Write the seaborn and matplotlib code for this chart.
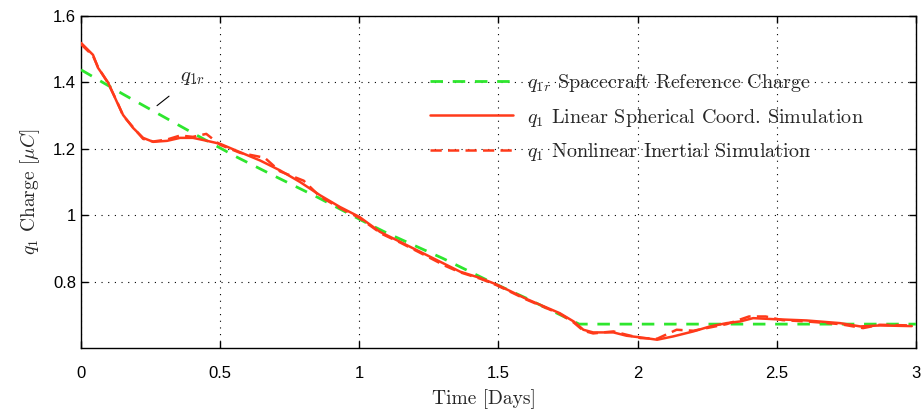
"""Spacecraft charge tracking: reference vs linear and nonlinear simulations."""

import matplotlib

matplotlib.use("Agg")

import matplotlib.pyplot as plt
import numpy as np
import pandas as pd
import seaborn as sns
from matplotlib.ticker import FuncFormatter

# reference charge q1r
ref_t = [0.0, 0.15, 0.30, 0.42, 0.56, 0.70, 0.85, 1.03, 1.10, 1.30, 1.47, 1.60, 1.79, 3.0]
ref_q = [1.438, 1.365, 1.295, 1.239, 1.175, 1.116, 1.054, 0.975, 0.946, 0.870, 0.800, 0.750, 0.672, 0.672]

# linear spherical coordinate simulation
lin_t = [0.0, 0.043, 0.061, 0.097, 0.129, 0.151, 0.187, 0.223, 0.259, 0.309, 0.356,
         0.402, 0.453, 0.50, 0.571, 0.643, 0.715, 0.787, 0.859, 0.93, 1.0, 1.074,
         1.146, 1.218, 1.29, 1.362, 1.434, 1.494, 1.60, 1.72, 1.77, 1.805, 1.84,
         1.913, 1.96, 2.01, 2.07, 2.128, 2.20, 2.26, 2.32, 2.368, 2.415, 2.487,
         2.607, 2.727, 2.80, 2.87, 2.985]
lin_q = [1.519, 1.483, 1.444, 1.400, 1.341, 1.302, 1.263, 1.233, 1.221, 1.224, 1.233,
         1.233, 1.224, 1.215, 1.190, 1.165, 1.135, 1.100, 1.060, 1.025, 0.995, 0.950,
         0.920, 0.890, 0.860, 0.830, 0.811, 0.791, 0.748, 0.705, 0.680, 0.655, 0.647,
         0.647, 0.637, 0.632, 0.625, 0.635, 0.650, 0.665, 0.675, 0.680, 0.690, 0.687,
         0.683, 0.675, 0.665, 0.668, 0.666]

# nonlinear inertial simulation
nl_t = [0.0, 0.043, 0.061, 0.097, 0.129, 0.151, 0.187, 0.223, 0.259, 0.309, 0.356,
        0.402, 0.45, 0.50, 0.571, 0.66, 0.715, 0.80, 0.859, 0.93, 1.0, 1.08,
        1.146, 1.218, 1.31, 1.362, 1.434, 1.494, 1.60, 1.72, 1.77, 1.805, 1.84,
        1.913, 1.96, 2.01, 2.07, 2.14, 2.20, 2.26, 2.32, 2.40, 2.46, 2.52,
        2.607, 2.727, 2.81, 2.87, 2.985]
nl_q = [1.515, 1.480, 1.446, 1.398, 1.343, 1.300, 1.265, 1.230, 1.222, 1.228, 1.240,
        1.236, 1.245, 1.212, 1.188, 1.173, 1.132, 1.104, 1.056, 1.022, 0.992, 0.944,
        0.918, 0.887, 0.847, 0.828, 0.809, 0.789, 0.746, 0.703, 0.677, 0.652, 0.644,
        0.650, 0.640, 0.630, 0.628, 0.655, 0.652, 0.662, 0.672, 0.695, 0.695, 0.684,
        0.680, 0.672, 0.660, 0.670, 0.668]

GREEN = "#2ee62e"
RED = "#ff3a1a"

sns.set_style("ticks")
plt.rcParams["font.family"] = ["Liberation Sans", "DejaVu Sans"]
plt.rcParams["mathtext.fontset"] = "cm"

fig = plt.figure(figsize=(9.24, 4.15), dpi=100)
ax = fig.add_axes([0.0877, 0.1614, 0.9036, 0.8000])

df_ref = pd.DataFrame({"t": ref_t, "q": ref_q})
df_lin = pd.DataFrame({"t": lin_t, "q": lin_q})
df_nl = pd.DataFrame({"t": nl_t, "q": nl_q})

sns.lineplot(data=df_ref, x="t", y="q", ax=ax, color=GREEN, lw=2.0,
             linestyle=(0, (4.5, 3.5)), estimator=None, sort=False,
             label=r"$q_{1r}$ Spacecraft Reference Charge", zorder=3)
sns.lineplot(data=df_lin, x="t", y="q", ax=ax, color=RED, lw=1.8,
             estimator=None, sort=False,
             label=r"$q_1$ Linear Spherical Coord. Simulation", zorder=4)
sns.lineplot(data=df_nl, x="t", y="q", ax=ax, color=RED, lw=1.8,
             linestyle=(0, (4.5, 2.5)), estimator=None, sort=False,
             label=r"$q_1$ Nonlinear Inertial Simulation", zorder=4)

ax.set_xlim(0, 3)
ax.set_ylim(0.6, 1.6)
ax.set_xticks(np.arange(0, 3.01, 0.5))
ax.set_yticks([0.8, 1.0, 1.2, 1.4, 1.6])
fmt = FuncFormatter(lambda v, _: f"{v:g}")
ax.xaxis.set_major_formatter(fmt)
ax.yaxis.set_major_formatter(fmt)
ax.tick_params(direction="in", length=5, width=1, top=True, right=True,
               labelsize=12, colors="black")
ax.tick_params(axis="x", pad=13)
for sp in ax.spines.values():
    sp.set_linewidth(1.0)
    sp.set_color("black")
ax.grid(True, color="black", linestyle=(0, (1, 5)), linewidth=0.8)

ax.set_xlabel("Time [Days]", fontfamily="cmr10", fontsize=14, labelpad=6)
ax.set_ylabel(r"$q_1$ Charge $[\mu C]$", fontfamily="cmr10", fontsize=14, labelpad=8)
# the original labels sit a little off the axes centre
ax.xaxis.label.set_x(0.483)
ax.yaxis.label.set_y(0.47)

ax.annotate(r"$q_{1r}$", xy=(0.273, 1.33), xytext=(0.40, 1.414),
            fontsize=15, ha="center", va="center",
            arrowprops=dict(arrowstyle="-", color="black", lw=0.8,
                            shrinkA=7, shrinkB=0))

leg = ax.legend(loc="upper left", bbox_to_anchor=(0.418, 0.83), frameon=False,
                prop={"family": "cmr10", "size": 14.5}, handlelength=4.1,
                handletextpad=0.7, labelspacing=0.6, borderpad=0, borderaxespad=0)

fig.savefig("out.png", dpi=100)
